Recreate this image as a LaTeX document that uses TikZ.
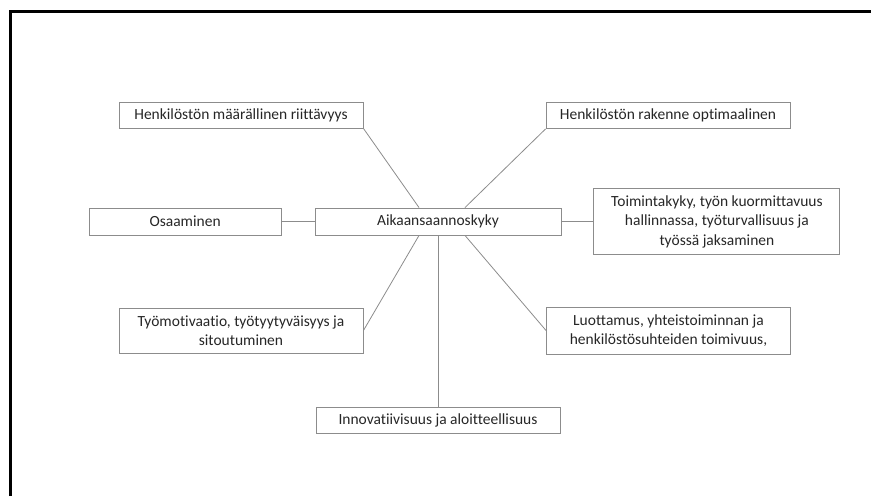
\documentclass[tikz,border=0pt]{standalone}
\usepackage{fontspec}
\setmainfont{Carlito}[Ligatures=NoCommon]
\usetikzlibrary{positioning}
\definecolor{boxgray}{HTML}{8C8C8C}
\definecolor{txtgray}{HTML}{262626}

\begin{document}
\begin{tikzpicture}[x=1pt,y=-1pt,font=\fontsize{15.5}{19.5}\selectfont,
      factor/.style={draw=boxgray,text=txtgray,line width=0.9pt,minimum width=244pt,minimum height=26pt,align=center,inner sep=1pt},
      link/.style={boxgray,line width=0.8pt}]
    \useasboundingbox (0,0) rectangle (871,496);
    \draw[line width=2.4pt] (10.5,496) -- (10.5,11.5) -- (871,11.5);
    \node[factor,minimum width=246pt,minimum height=27pt] (aika) at (438,221.5) {Aikaansaannoskyky};
    \node[factor,minimum width=192pt,minimum height=27pt,left=33pt of aika] (osaa) {Osaaminen};
    \node[factor,minimum width=246pt,minimum height=66pt,right=32pt of aika] (toim) {Toimintakyky, työn kuormittavuus\\hallinnassa, työturvallisuus ja\\työssä jaksaminen};
    \node[factor,below=172pt of aika] (inno) {Innovatiivisuus ja aloitteellisuus};
    \node[factor] (maara) at (241,115) {Henkilöstön määrällinen riittävyys};
    \node[factor] (rake) at (668,115.5) {Henkilöstön rakenne optimaalinen};
    \node[factor,minimum height=45pt] (moti) at (241,330.5) {Työmotivaatio, työtyytyväisyys ja\\sitoutuminen};
    \node[factor,minimum height=47pt] (luot) at (668.5,330.5) {Luottamus, yhteistoiminnan ja\\henkilöstösuhteiden toimivuus,};
    \draw[link] (osaa) -- (aika);
    \draw[link] (aika) -- (toim);
    \draw[link] (aika) -- (inno);
    \draw[link] (maara.south east) -- ([xshift=-19pt]aika.north);
    \draw[link] (rake.south west) -- ([xshift=27pt]aika.north);
    \draw[link] (moti.east) -- ([xshift=-19pt]aika.south);
    \draw[link] (luot.west) -- ([xshift=27pt]aika.south);
\end{tikzpicture}
\end{document}
